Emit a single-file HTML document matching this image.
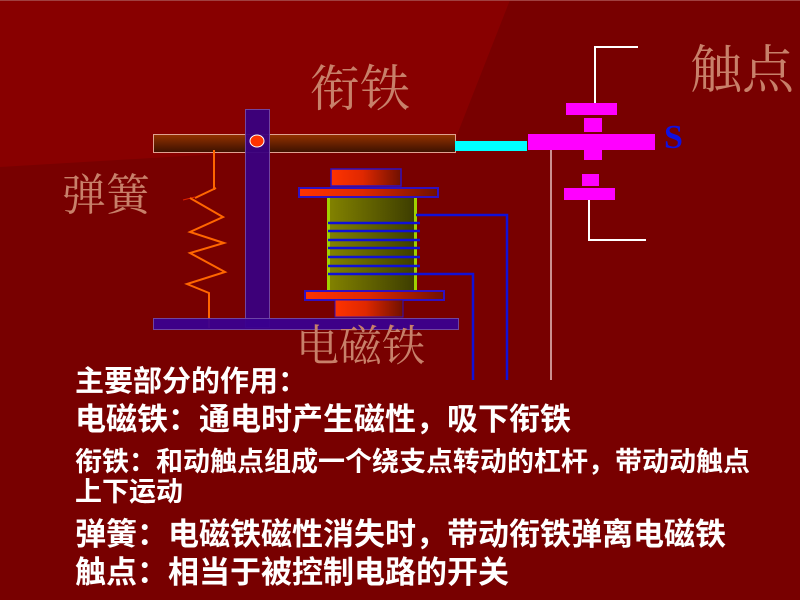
<!DOCTYPE html>
<html><head><meta charset="utf-8"><style>
html,body{margin:0;padding:0}
body{width:800px;height:600px;overflow:hidden;background:#780000;position:relative}
.t{position:absolute;left:75px;color:#fff;font-weight:bold;font-family:"Liberation Sans","Noto Sans CJK SC",sans-serif;white-space:nowrap;line-height:1}
.l{position:absolute;color:#c8806a;font-family:"Liberation Serif","Noto Serif CJK SC",serif;white-space:nowrap;line-height:1}
</style></head><body>
<svg width="800" height="600" style="position:absolute;left:0;top:0">
<defs>
<linearGradient id="bar" x1="0" y1="0" x2="0" y2="1"><stop offset="0" stop-color="#943200"/><stop offset="1" stop-color="#3c1000"/></linearGradient>
<linearGradient id="red" x1="0" y1="0" x2="1" y2="0"><stop offset="0" stop-color="#ff3300"/><stop offset="0.45" stop-color="#e02800"/><stop offset="1" stop-color="#701000"/></linearGradient>
<linearGradient id="core" x1="0" y1="0" x2="1" y2="0"><stop offset="0" stop-color="#848400"/><stop offset="1" stop-color="#3c3c00"/></linearGradient>
</defs>
<polygon points="0,0 510,0 455,140 0,167" fill="#880000"/>
<line x1="0" y1="0.5" x2="800" y2="0.5" stroke="#a04040" stroke-width="1"/>
<rect x="153.5" y="134.5" width="302" height="18" fill="url(#bar)" stroke="#e0a090" stroke-width="1"/>
<rect x="455" y="141" width="72" height="10" fill="#00ffff"/>
<polyline points="214,150 214,190" stroke="#ff6600" stroke-width="2" fill="none"/>
<polyline points="195,198 216,188" stroke="#ff6600" stroke-width="2" fill="none"/>
<line x1="183" y1="200" x2="195" y2="197" stroke="#e02000" stroke-width="1"/>
<polyline points="190,198 223,217 190,232 224,243 190,253 225,272 187,284 209,293 209,328" stroke="#ff6600" stroke-width="2" fill="none"/>
<rect x="245.5" y="109.5" width="24" height="218" fill="#3a0080" stroke="#7048a8" stroke-width="1" opacity="0.95"/>
<ellipse cx="257" cy="141" rx="7" ry="6" fill="#ff3300" stroke="#fff" stroke-width="1"/>
<rect x="153.5" y="318.5" width="305" height="11" fill="#3a0090" stroke="#7048a8" stroke-width="1" opacity="0.95"/>
<rect x="331" y="169" width="70" height="17" fill="url(#red)" stroke="#3010c0" stroke-width="1.5"/>
<rect x="299" y="188" width="139" height="9" fill="url(#red)" stroke="#3010c0" stroke-width="2"/>
<rect x="327" y="198" width="89" height="92" fill="url(#core)"/>
<rect x="327" y="198" width="3" height="92" fill="#a0d000"/>
<rect x="414" y="198" width="3" height="92" fill="#a0d000"/>
<g stroke="#1010d8" stroke-width="2.5">
<line x1="328" y1="223" x2="420" y2="223"/><line x1="328" y1="231" x2="420" y2="231"/><line x1="328" y1="240" x2="420" y2="240"/><line x1="328" y1="248" x2="420" y2="248"/><line x1="328" y1="257" x2="420" y2="257"/><line x1="328" y1="266" x2="420" y2="266"/><line x1="328" y1="274" x2="420" y2="274"/>
</g>
<rect x="305" y="291" width="139" height="9" fill="url(#red)" stroke="#3010c0" stroke-width="2"/>
<rect x="335" y="300" width="68" height="17" fill="url(#red)" stroke="#3010c0" stroke-width="1"/>
<polyline points="416,215 507,215 507,380" stroke="#1010d8" stroke-width="2.5" fill="none"/>
<polyline points="420,274 473,274 473,380" stroke="#1010d8" stroke-width="2.5" fill="none"/>
<line x1="551" y1="148" x2="551" y2="380" stroke="#e8c0c0" stroke-width="1.5"/>
<polyline points="638,47 595,47 595,103" stroke="#fff" stroke-width="2" fill="none"/>
<polyline points="589,200 589,240 646,240" stroke="#fff" stroke-width="2" fill="none"/>
<g fill="#ff00ff">
<rect x="566" y="103" width="51" height="12"/>
<rect x="584" y="118" width="18" height="14"/>
<rect x="528" y="134" width="127" height="16"/>
<rect x="584" y="145" width="18" height="15"/>
<rect x="582" y="174" width="17" height="12"/>
<rect x="564" y="188" width="51" height="12"/>
</g>
<text x="664" y="148" fill="#1010e0" font-family="Liberation Serif,serif" font-weight="bold" font-size="34">S</text>
</svg>
<div class="l" style="left:310px;top:64px;font-size:50px">衔铁</div>
<div class="l" style="left:62px;top:174px;font-size:44px">弹簧</div>
<div class="l" style="left:690px;top:46px;font-size:52px">触点</div>
<div class="l" style="left:296px;top:326px;font-size:43px">电磁铁</div>
<div class="t" style="top:368px;font-size:29px">主要部分的作用：</div>
<div class="t" style="top:404px;font-size:31px">电磁铁：通电时产生磁性，吸下衔铁</div>
<div class="t" style="top:449px;font-size:27px">衔铁：和动触点组成一个绕支点转动的杠杆，带动动触点</div>
<div class="t" style="top:479px;font-size:27px">上下运动</div>
<div class="t" style="top:519px;font-size:31px">弹簧：电磁铁磁性消失时，带动衔铁弹离电磁铁</div>
<div class="t" style="top:557px;font-size:31px">触点：相当于被控制电路的开关</div>
</body></html>
